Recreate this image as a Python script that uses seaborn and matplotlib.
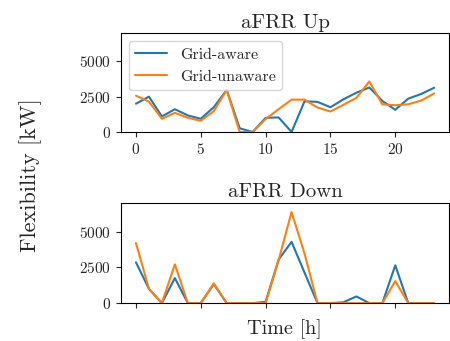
import pandas as pd
import matplotlib
matplotlib.use("Agg")
import matplotlib.pyplot as plt
import seaborn as sns

hours = list(range(24))

up_aware = [2000, 2500, 1100, 1610, 1170, 935, 1750, 2970, 260, 0, 1000, 1030,
            0, 2170, 2130, 1750, 2310, 2780, 3150, 2200, 1570, 2360, 2690, 3130]
up_unaware = [2570, 2150, 935, 1355, 1000, 795, 1470, 2970, 0, 0, 910, 1610,
              2290, 2290, 1730, 1450, 1920, 2410, 3575, 1960, 1890, 1960, 2220, 2730]

down_aware = [2850, 1000, 0, 1750, 0, 0, 1330, 0, 0, 0, 90, 3040,
              4280, 2130, 0, 0, 60, 470, 0, 0, 2640, 0, 0, 0]
down_unaware = [4200, 1000, 0, 2710, 0, 0, 1380, 0, 0, 0, 0, 2990,
                6360, 3460, 0, 0, 0, 0, 0, 0, 1540, 0, 0, 0]

series_names = ["Grid-aware", "Grid-unaware"]

sns.set_style("ticks")
plt.rcParams["font.family"] = ["cmr10", "DejaVu Serif"]
plt.rcParams["axes.formatter.use_mathtext"] = True
plt.rcParams["axes.unicode_minus"] = False
plt.rcParams["mathtext.fontset"] = "cm"


def to_long(aware, unaware):
    return pd.DataFrame({
        "hour": hours * 2,
        "value": aware + unaware,
        "series": [series_names[0]] * 24 + [series_names[1]] * 24,
    })


fig = plt.figure(figsize=(4.5, 3.41), dpi=100)
ax1 = fig.add_axes([0.269, 0.613, 0.729, 0.290])
ax2 = fig.add_axes([0.269, 0.111, 0.729, 0.294], sharex=ax1, sharey=ax1)

palette = ["#1f77b4", "#ff7f0e"]
sns.lineplot(data=to_long(up_aware, up_unaware), x="hour", y="value", hue="series",
             palette=palette, ax=ax1, linewidth=1.5)
sns.lineplot(data=to_long(down_aware, down_unaware), x="hour", y="value", hue="series",
             palette=palette, ax=ax2, linewidth=1.5, legend=False)

ax1.set_ylim(0, 7000)
ax1.set_yticks([0, 2500, 5000])
ax1.set_xticks([0, 5, 10, 15, 20])
for ax, title in [(ax1, "aFRR Up"), (ax2, "aFRR Down")]:
    ax.set_title(title, fontsize=15, pad=4)
    ax.set_xlabel("")
    ax.set_ylabel("")
    ax.tick_params(labelsize=11, length=3.5, width=0.8)
    for sp in ax.spines.values():
        sp.set_linewidth(0.8)
        sp.set_color("black")
ax2.tick_params(labelbottom=False)

leg = ax1.legend(loc="upper left", fontsize=11.5, frameon=True)
leg.set_title(None)

fig.text(0.067, 0.487, "Flexibility [kW]", rotation=90, fontsize=16,
         ha="center", va="center")
fig.text(0.633, 0.035, "Time [h]", fontsize=14.5, ha="center", va="center")

fig.savefig("out.png", dpi=100)
